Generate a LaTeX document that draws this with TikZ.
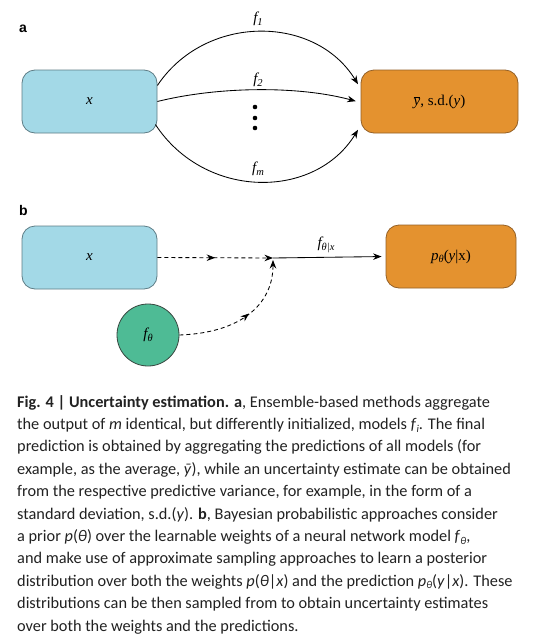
\documentclass[tikz,border=0pt]{standalone}
\usepackage{fontspec}
\setmainfont{Carlito}
\newfontfamily\serif{Liberation Serif}
\newfontfamily\lblfont{Liberation Sans}
\usetikzlibrary{arrows.meta,calc,decorations.markings}
\definecolor{boxblue}{HTML}{A3D9E7}
\definecolor{boxblueline}{HTML}{5E7D86}
\definecolor{boxorange}{HTML}{E4922F}
\definecolor{boxorangeline}{HTML}{946026}
\definecolor{circgreen}{HTML}{4EBB95}
\definecolor{circline}{HTML}{37463F}
\definecolor{captext}{HTML}{222222}
\newcommand\lsub[1]{\raisebox{-0.4ex}{\fontsize{10.5}{10.5}\selectfont #1}}
\newcommand\csub[1]{\raisebox{-0.35ex}{\fontsize{10.5}{10.5}\selectfont #1}}
\begin{document}
\begin{tikzpicture}[x=1pt,y=-1pt,
  rbox/.style={rounded corners=13pt,line width=0.8pt,minimum height=63pt,inner sep=0pt},
  inbox/.style={rbox,fill=boxblue,draw=boxblueline,minimum width=135pt},
  outbox/.style={rbox,fill=boxorange,draw=boxorangeline},
  circnode/.style={circle,fill=circgreen,draw=circline,line width=0.8pt,minimum size=62pt,inner sep=0pt},
  lbl/.style={font=\fontsize{15}{17}\selectfont\serif,inner sep=0pt},
  panel/.style={font=\fontsize{14}{16}\selectfont\lblfont\bfseries,inner sep=0pt,anchor=base west},
  conn/.style={line width=0.85pt,-{Stealth[length=8.5pt,width=6.5pt]}},
  dconn/.style={conn,dash pattern=on 4pt off 3pt},
  midarrow/.style={decoration={markings,mark=at position #1 with {\arrow{Stealth[length=8.5pt,width=6.5pt]}}},postaction=decorate},
  capline/.style={anchor=base west,inner sep=0pt,font=\fontsize{16.3}{20}\selectfont,text=captext}
]
\useasboundingbox (0,0) rectangle (558,640);
\fill[white] (0,0) rectangle (558,640);

% ---------- panel a ----------
\node[panel] (pa) at (19,32) {a};
\node[inbox,lbl] (xa) at (89.5,101.5) {\itshape x};
\node[outbox,lbl,minimum width=157pt] (ya) at (439.5,101.5) {$\overline{\mbox{\itshape y}}$, s.d.(\textit{y})};

\draw[conn,shorten >=5pt] ($(xa.east)+(0,-16)$) .. controls (205,14) and (315,14) .. ($(ya.west)+(0,-13)$);
\draw[conn,shorten >=5pt] (xa.east) .. controls (220,86) and (300,86) .. ($(ya.west)+(0,1)$);
\draw[conn,shorten >=5pt] ($(xa.east)+(-2,23)$) .. controls (205,200) and (315,200) .. ($(ya.west)+(0,24)$);

\node[lbl] (f1) at (258,19) {\itshape f\lsub{1}};
\node[lbl] (f2) at (258,80) {\itshape f\lsub{2}};
\node[lbl] (fm) at (258,169) {\itshape f\lsub{m}};
\fill (255,107) circle (2.3);
\fill (255,118) circle (2.3);
\fill (255,128) circle (2.3);

% ---------- panel b ----------
\node[panel] (pb) at (19,215) {b};
\node[inbox,lbl] (xb) at (89.5,257.5) {\itshape x};
\node[outbox,lbl,minimum width=130pt] (yb) at (451,256.5) {\itshape p\lsub{θ}\upshape(\textit{y}|x)};
\node[circnode,lbl] (ft) at (148,335) {\itshape f\lsub{θ}};
\coordinate (J) at (273,258);

\draw[dconn,midarrow=0.5] (xb.east) -- (J);
\draw[conn,shorten >=4pt] (J) -- (yb.west);
\draw[dconn,midarrow=0.55] (ft.east) .. controls (240,333) and (273,305) .. ($(J)+(0,2)$);
\node[lbl] (fx) at (326,245) {\itshape f\lsub{θ|x}};

% ---------- caption ----------
\node[capline] (c1) at (17,407) {\textbf{Fig. 4 | Uncertainty estimation. a}, Ensemble-based methods aggregate};
\node[capline] (c2) at (17,429.4) {the output of \textit{m} identical, but differently initialized, models \textit{f}\csub{\textit{i}}. The final};
\node[capline] (c3) at (17,451.8) {prediction is obtained by aggregating the predictions of all models (for};
\node[capline] (c4) at (17,474.2) {example, as the average, \textit{\={y}}), while an uncertainty estimate can be obtained};
\node[capline] (c5) at (17,496.6) {from the respective predictive variance, for example, in the form of a};
\node[capline] (c6) at (17,519) {standard deviation, s.d.(\textit{y}). \textbf{b}, Bayesian probabilistic approaches consider};
\node[capline] (c7) at (17,541.4) {a prior \textit{p}(\textit{θ}) over the learnable weights of a neural network model \textit{f}\csub{\textit{θ}},};
\node[capline] (c8) at (17,563.8) {and make use of approximate sampling approaches to learn a posterior};
\node[capline] (c9) at (17,586.2) {distribution over both the weights \textit{p}(\textit{θ}|\textit{x}) and the prediction \textit{p}\csub{\textit{θ}}(\textit{y}|\textit{x}). These};
\node[capline] (c10) at (17,608.6) {distributions can be then sampled from to obtain uncertainty estimates};
\node[capline] (c11) at (17,631) {over both the weights and the predictions.};
\end{tikzpicture}
\end{document}
